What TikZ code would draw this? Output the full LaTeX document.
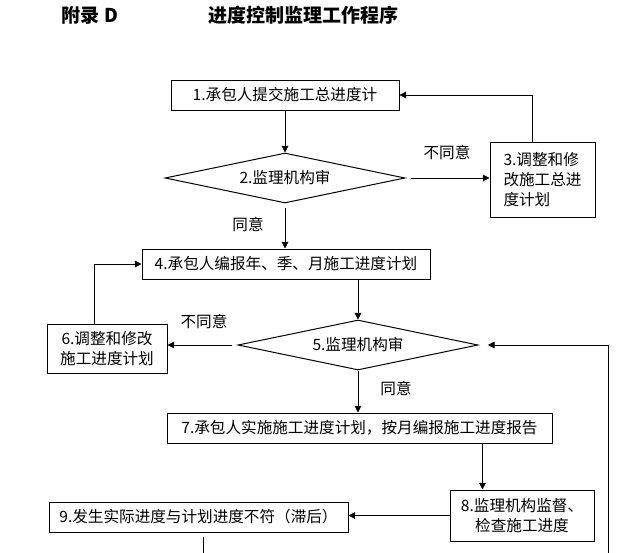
\documentclass[tikz,border=0pt]{standalone}
\usepackage{fontspec}
\setmainfont{Noto Sans CJK SC}
\usetikzlibrary{arrows.meta, shapes.geometric, calc}

\newcommand{\bodyfont}{\fontsize{11.7}{15}\selectfont}
\newcommand{\headfont}{\fontsize{14.25}{16}\selectfont\bfseries}

\tikzset{
    stepbox/.style={draw, line width=0.75pt, inner sep=2pt, align=center, font=\bodyfont},
    check/.style={diamond, draw, line width=0.75pt, aspect=4.8, inner sep=0pt, font=\bodyfont},
    flow/.style={-{Triangle[length=5pt,width=5pt]}, line width=0.75pt},
    lbl/.style={font=\bodyfont, inner sep=0pt}
}

\begin{document}
\begin{tikzpicture}[x=0.75pt, y=-0.75pt]
    \useasboundingbox (0,0) rectangle (643,553);

    % Title
    \node[font=\headfont] (app) at (90,15) {附录 D};
    \node[font=\headfont] (title) at (303,15) {进度控制监理工作程序};

    % Overall schedule
    \node[stepbox, minimum width=171pt, minimum height=22.5pt] (s1) at (285,95) {1.承包人提交施工总进度计};
    \node[check, minimum width=180pt, minimum height=37.5pt] (d2) at (285,178) {2.监理机构审};
    \node[stepbox, align=left, minimum width=78.75pt, minimum height=56.25pt] (s3) at (542.5,179.5) {3.调整和修\\改施工总进\\度计划};

    \draw[flow] (s1.south) -- (d2.north);
    \draw[flow, shorten <=4pt] (d2.east) -- (d2.east -| s3.west);
    \node[lbl] (no2) at (447,153) {不同意};
    \draw[flow] ([xshift=-7.5pt]s3.north) |- (s1.east);

    % Year, quarter and month schedules
    \node[stepbox, minimum width=216pt, minimum height=22.5pt] (s4) at (286,264) {4.承包人编报年、季、月施工进度计划};
    \node[check, minimum width=180pt, minimum height=37.5pt] (d5) at (358,345) {5.监理机构审};
    \node[stepbox, minimum width=90pt, minimum height=36.75pt] (s6) at (107,348.5) {6.调整和修改\\施工进度计划};

    \draw[flow, shorten <=3pt] (d2.south) -- (d2.south |- s4.north);
    \node[lbl] (yes2) at (248,225) {同意};
    \draw[flow] (d5.north |- s4.south) -- (d5.north);
    \draw[flow, shorten <=4pt] (d5.west) -- (d5.west -| s6.east);
    \node[lbl] (no5) at (204,322) {不同意};
    \draw[flow] ([xshift=-9.75pt]s6.north) |- (s4.west);

    % Execution and checking
    \node[stepbox, minimum width=288.75pt, minimum height=22.5pt] (s7) at (359.5,428) {7.承包人实施施工进度计划，按月编报施工进度报告};
    \node[stepbox, minimum width=108pt, minimum height=38.25pt] (s8) at (522,515.5) {8.监理机构监督、\\检查施工进度};
    \node[stepbox, minimum width=224.25pt, minimum height=22.5pt] (s9) at (198.5,517) {9.发生实际进度与计划进度不符（滞后）};

    \draw[flow] (d5.south) -- (d5.south |- s7.north);
    \node[lbl] (yes5) at (396,389) {同意};
    \coordinate (s7out) at ([xshift=-52.5pt]s7.south east);
    \draw[flow] (s7out) -- (s7out |- s8.north);
    \draw[flow] (s8.west) -- (s8.west -| s9.east);

    % Lines leaving the page
    \coordinate (bot9) at (203,553);
    \coordinate (botr) at (608,553);
    \draw[line width=0.75pt, shorten <=3pt] (s9.south -| bot9) -- (bot9);
    \draw[flow, shorten >=7pt] (botr) |- (d5.east);
\end{tikzpicture}
\end{document}
